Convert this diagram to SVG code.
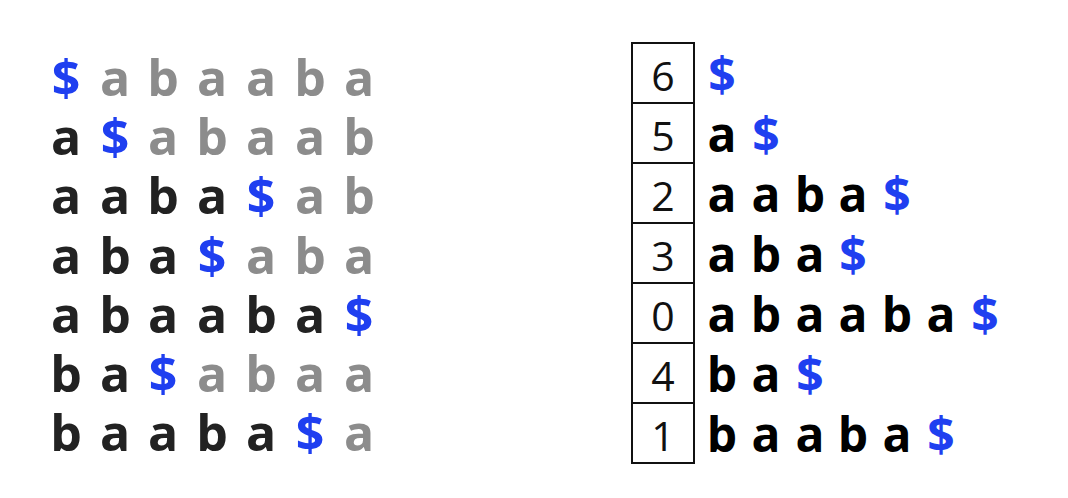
<svg xmlns="http://www.w3.org/2000/svg" width="1068" height="498" viewBox="0 0 1068 498">
<style>
.c{font-family:"Open Sans","Liberation Sans",sans-serif;font-weight:700;font-size:50px;text-anchor:middle}
.r{font-family:"Open Sans","Liberation Sans",sans-serif;font-weight:700;font-size:48px;text-anchor:middle}
.k{fill:#222}
.rk{fill:#000}
.g{fill:#8c8c8c}
.d{fill:#1f3ff0}
.box{fill:#fff;stroke:#111;stroke-width:2}
.n{font-family:"Open Sans","Liberation Sans",sans-serif;font-weight:400;font-size:41px;text-anchor:middle;fill:#111}
</style>
<rect width="1068" height="498" fill="#fff"/>
<g id="matrix">
<g id="row0"><text class="c d" x="66" y="96">$</text><text class="c g" x="115" y="96">a</text><text class="c g" x="163" y="96">b</text><text class="c g" x="212" y="96">a</text><text class="c g" x="261" y="96">a</text><text class="c g" x="310" y="96">b</text><text class="c g" x="359" y="96">a</text></g>
<g id="row1"><text class="c k" x="66" y="155">a</text><text class="c d" x="115" y="155">$</text><text class="c g" x="163" y="155">a</text><text class="c g" x="212" y="155">b</text><text class="c g" x="261" y="155">a</text><text class="c g" x="310" y="155">a</text><text class="c g" x="359" y="155">b</text></g>
<g id="row2"><text class="c k" x="66" y="214">a</text><text class="c k" x="115" y="214">a</text><text class="c k" x="163" y="214">b</text><text class="c k" x="212" y="214">a</text><text class="c d" x="261" y="214">$</text><text class="c g" x="310" y="214">a</text><text class="c g" x="359" y="214">b</text></g>
<g id="row3"><text class="c k" x="66" y="274">a</text><text class="c k" x="115" y="274">b</text><text class="c k" x="163" y="274">a</text><text class="c d" x="212" y="274">$</text><text class="c g" x="261" y="274">a</text><text class="c g" x="310" y="274">b</text><text class="c g" x="359" y="274">a</text></g>
<g id="row4"><text class="c k" x="66" y="333">a</text><text class="c k" x="115" y="333">b</text><text class="c k" x="163" y="333">a</text><text class="c k" x="212" y="333">a</text><text class="c k" x="261" y="333">b</text><text class="c k" x="310" y="333">a</text><text class="c d" x="359" y="333">$</text></g>
<g id="row5"><text class="c k" x="66" y="392">b</text><text class="c k" x="115" y="392">a</text><text class="c d" x="163" y="392">$</text><text class="c g" x="212" y="392">a</text><text class="c g" x="261" y="392">b</text><text class="c g" x="310" y="392">a</text><text class="c g" x="359" y="392">a</text></g>
<g id="row6"><text class="c k" x="66" y="451">b</text><text class="c k" x="115" y="451">a</text><text class="c k" x="163" y="451">a</text><text class="c k" x="212" y="451">b</text><text class="c k" x="261" y="451">a</text><text class="c d" x="310" y="451">$</text><text class="c g" x="359" y="451">a</text></g>
</g>
<g id="suffix-array">
<g id="s6"><rect class="box" x="632" y="43" width="62" height="60"/><text class="n" x="663" y="91">6</text><text class="r d" x="722" y="92">$</text></g>
<g id="s5"><rect class="box" x="632" y="103" width="62" height="60"/><text class="n" x="663" y="151">5</text><text class="r rk" x="722" y="152">a</text><text class="r d" x="766" y="152">$</text></g>
<g id="s2"><rect class="box" x="632" y="163" width="62" height="60"/><text class="n" x="663" y="211">2</text><text class="r rk" x="722" y="212">a</text><text class="r rk" x="766" y="212">a</text><text class="r rk" x="810" y="212">b</text><text class="r rk" x="853" y="212">a</text><text class="r d" x="897" y="212">$</text></g>
<g id="s3"><rect class="box" x="632" y="223" width="62" height="60"/><text class="n" x="663" y="271">3</text><text class="r rk" x="722" y="272">a</text><text class="r rk" x="766" y="272">b</text><text class="r rk" x="810" y="272">a</text><text class="r d" x="853" y="272">$</text></g>
<g id="s0"><rect class="box" x="632" y="283" width="62" height="60"/><text class="n" x="663" y="331">0</text><text class="r rk" x="722" y="332">a</text><text class="r rk" x="766" y="332">b</text><text class="r rk" x="810" y="332">a</text><text class="r rk" x="853" y="332">a</text><text class="r rk" x="897" y="332">b</text><text class="r rk" x="941" y="332">a</text><text class="r d" x="985" y="332">$</text></g>
<g id="s4"><rect class="box" x="632" y="343" width="62" height="60"/><text class="n" x="663" y="391">4</text><text class="r rk" x="722" y="392">b</text><text class="r rk" x="766" y="392">a</text><text class="r d" x="810" y="392">$</text></g>
<g id="s1"><rect class="box" x="632" y="403" width="62" height="60"/><text class="n" x="663" y="451">1</text><text class="r rk" x="722" y="452">b</text><text class="r rk" x="766" y="452">a</text><text class="r rk" x="810" y="452">a</text><text class="r rk" x="853" y="452">b</text><text class="r rk" x="897" y="452">a</text><text class="r d" x="941" y="452">$</text></g>
</g>
<g id="connectors"/>
</svg>
